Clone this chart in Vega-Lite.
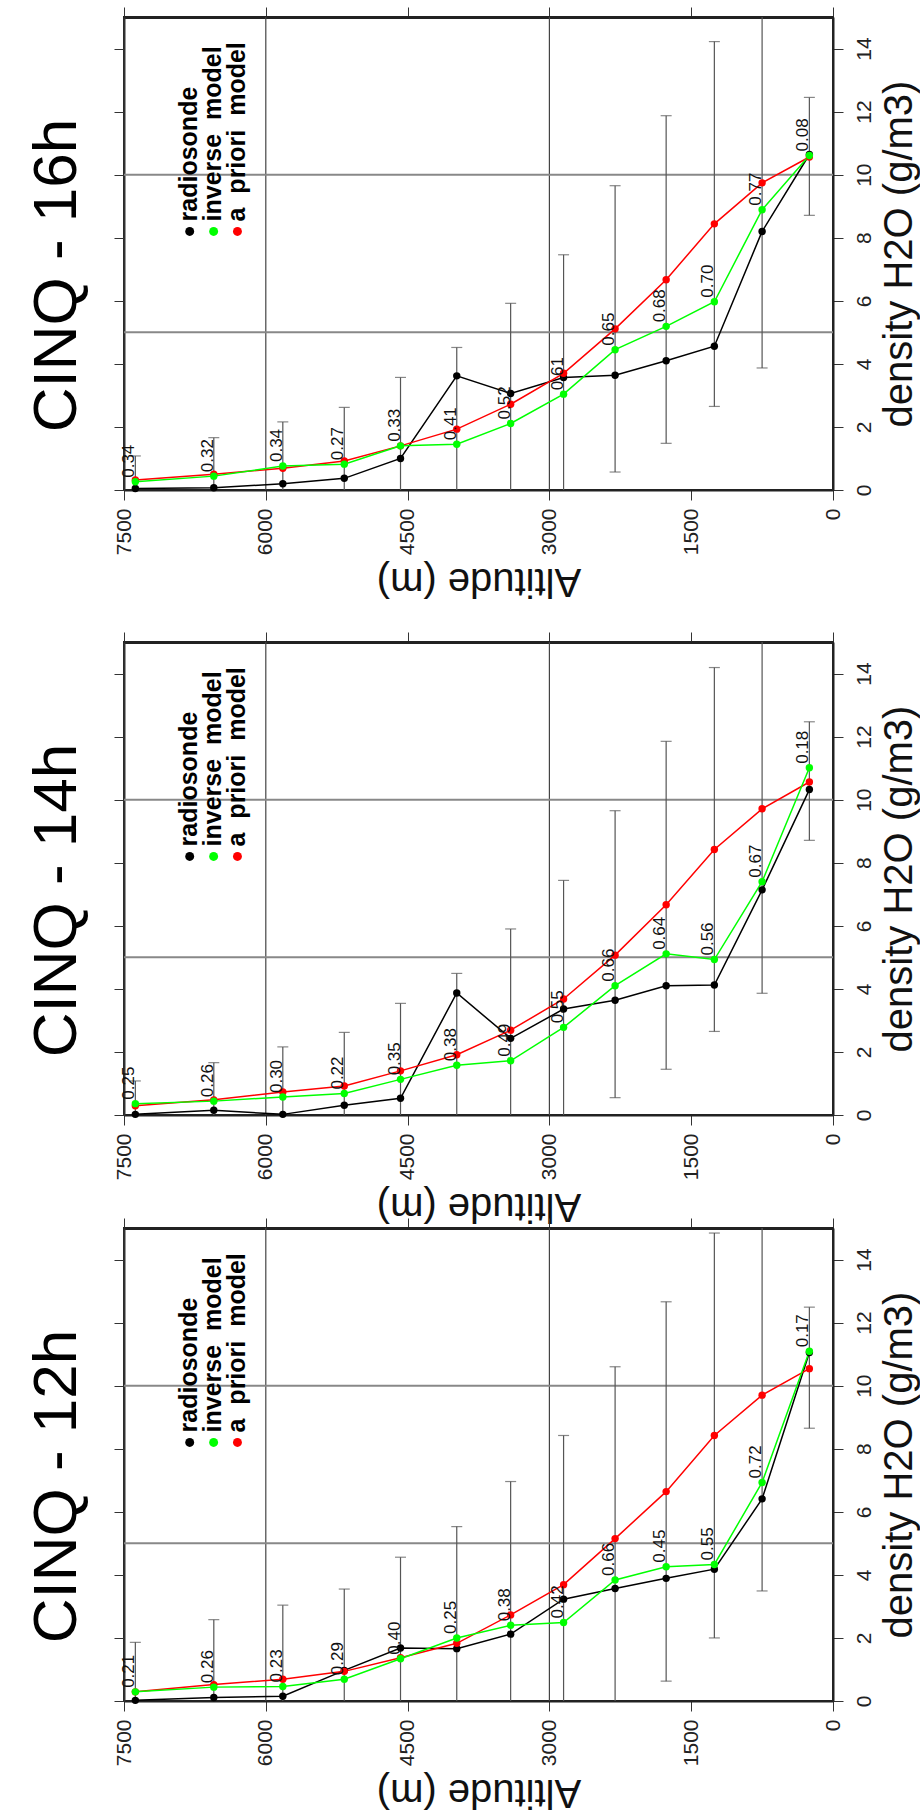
{
  "$schema": "https://vega.github.io/schema/vega-lite/v6.json",
  "padding": {"left": 24, "top": 5, "right": 0, "bottom": 6},
  "background": "white",
  "config": {"view": {"stroke": "#222", "strokeWidth": 2}, "font": "Liberation Sans"},
  "datasets": {
    "p16": [
      {"alt": 7380, "rs": 0.05, "inv": 0.26, "apr": 0.32, "lo": -0.44, "hi": 1.08, "lab": "0.34"},
      {"alt": 6550, "rs": 0.07, "inv": 0.44, "apr": 0.50, "lo": -0.66, "hi": 1.66, "lab": "0.32"},
      {"alt": 5820, "rs": 0.20, "inv": 0.76, "apr": 0.69, "lo": -0.78, "hi": 2.16, "lab": "0.34"},
      {"alt": 5170, "rs": 0.37, "inv": 0.82, "apr": 0.92, "lo": -0.78, "hi": 2.62, "lab": "0.27"},
      {"alt": 4575, "rs": 1.00, "inv": 1.40, "apr": 1.40, "lo": -0.77, "hi": 3.57, "lab": "0.33"},
      {"alt": 3980, "rs": 3.62, "inv": 1.45, "apr": 1.93, "lo": -0.66, "hi": 4.52, "lab": "0.41"},
      {"alt": 3410, "rs": 3.06, "inv": 2.11, "apr": 2.72, "lo": -0.48, "hi": 5.92, "lab": "0.52"},
      {"alt": 2850, "rs": 3.57, "inv": 3.04, "apr": 3.70, "lo": -0.06, "hi": 7.46, "lab": "0.61"},
      {"alt": 2305, "rs": 3.64, "inv": 4.45, "apr": 5.11, "lo": 0.57, "hi": 9.65, "lab": "0.65"},
      {"alt": 1765, "rs": 4.10, "inv": 5.19, "apr": 6.67, "lo": 1.48, "hi": 11.87, "lab": "0.68"},
      {"alt": 1255, "rs": 4.56, "inv": 5.97, "apr": 8.44, "lo": 2.65, "hi": 14.22, "lab": "0.70"},
      {"alt": 750, "rs": 8.20, "inv": 8.89, "apr": 9.74, "lo": 3.87, "hi": 15.61, "lab": "0.77"},
      {"alt": 250, "rs": 10.64, "inv": 10.61, "apr": 10.56, "lo": 8.71, "hi": 12.45, "lab": "0.08"}
    ],
    "p14": [
      {"alt": 7380, "rs": 0.02, "inv": 0.36, "apr": 0.29, "lo": -0.50, "hi": 1.08, "lab": "0.25"},
      {"alt": 6550, "rs": 0.15, "inv": 0.44, "apr": 0.48, "lo": -0.70, "hi": 1.66, "lab": "0.26"},
      {"alt": 5820, "rs": 0.02, "inv": 0.57, "apr": 0.73, "lo": -0.70, "hi": 2.16, "lab": "0.30"},
      {"alt": 5170, "rs": 0.31, "inv": 0.68, "apr": 0.92, "lo": -0.78, "hi": 2.62, "lab": "0.22"},
      {"alt": 4575, "rs": 0.53, "inv": 1.13, "apr": 1.40, "lo": -0.74, "hi": 3.54, "lab": "0.35"},
      {"alt": 3980, "rs": 3.87, "inv": 1.58, "apr": 1.91, "lo": -0.67, "hi": 4.49, "lab": "0.38"},
      {"alt": 3410, "rs": 2.43, "inv": 1.72, "apr": 2.69, "lo": -0.52, "hi": 5.90, "lab": "0.49"},
      {"alt": 2850, "rs": 3.36, "inv": 2.78, "apr": 3.68, "lo": -0.08, "hi": 7.44, "lab": "0.55"},
      {"alt": 2305, "rs": 3.64, "inv": 4.10, "apr": 5.07, "lo": 0.55, "hi": 9.65, "lab": "0.66"},
      {"alt": 1765, "rs": 4.10, "inv": 5.11, "apr": 6.67, "lo": 1.45, "hi": 11.85, "lab": "0.64"},
      {"alt": 1255, "rs": 4.12, "inv": 4.93, "apr": 8.42, "lo": 2.65, "hi": 14.19, "lab": "0.56"},
      {"alt": 750, "rs": 7.14, "inv": 7.40, "apr": 9.71, "lo": 3.86, "hi": 15.56, "lab": "0.67"},
      {"alt": 250, "rs": 10.32, "inv": 11.01, "apr": 10.56, "lo": 8.71, "hi": 12.47, "lab": "0.18"}
    ],
    "p12": [
      {"alt": 7380, "rs": 0.02, "inv": 0.29, "apr": 0.29, "lo": -1.28, "hi": 1.86, "lab": "0.21"},
      {"alt": 6550, "rs": 0.11, "inv": 0.44, "apr": 0.52, "lo": -1.54, "hi": 2.58, "lab": "0.26"},
      {"alt": 5820, "rs": 0.15, "inv": 0.46, "apr": 0.69, "lo": -1.66, "hi": 3.04, "lab": "0.23"},
      {"alt": 5170, "rs": 0.97, "inv": 0.69, "apr": 0.94, "lo": -1.67, "hi": 3.55, "lab": "0.29"},
      {"alt": 4575, "rs": 1.68, "inv": 1.34, "apr": 1.37, "lo": -1.82, "hi": 4.56, "lab": "0.40"},
      {"alt": 3980, "rs": 1.66, "inv": 2.00, "apr": 1.83, "lo": -1.87, "hi": 5.53, "lab": "0.25"},
      {"alt": 3410, "rs": 2.12, "inv": 2.40, "apr": 2.73, "lo": -1.50, "hi": 6.96, "lab": "0.38"},
      {"alt": 2850, "rs": 3.23, "inv": 2.49, "apr": 3.69, "lo": -1.04, "hi": 8.42, "lab": "0.42"},
      {"alt": 2305, "rs": 3.57, "inv": 3.84, "apr": 5.15, "lo": -0.30, "hi": 10.60, "lab": "0.66"},
      {"alt": 1765, "rs": 3.89, "inv": 4.26, "apr": 6.64, "lo": 0.63, "hi": 12.66, "lab": "0.45"},
      {"alt": 1255, "rs": 4.18, "inv": 4.33, "apr": 8.42, "lo": 2.00, "hi": 14.84, "lab": "0.55"},
      {"alt": 750, "rs": 6.41, "inv": 6.93, "apr": 9.70, "lo": 3.49, "hi": 15.91, "lab": "0.72"},
      {"alt": 250, "rs": 11.05, "inv": 11.09, "apr": 10.54, "lo": 8.65, "hi": 12.49, "lab": "0.17"}
    ]
  },
  "spacing": 28,
  "vconcat": [
    {
      "width": 709, "height": 473,
      "title": {"text": "CINQ - 16h", "orient": "left", "anchor": "middle", "fontSize": 62, "fontWeight": "normal", "font": "Liberation Sans", "color": "#000", "offset": 24, "dx": -22},
      "data": {"name": "p16"},
      "resolve": {"axis": {"x": "independent", "y": "independent"}},
      "layer": [
        {"data": {"values": [{"g": 3000}, {"g": 6000}]},
         "mark": {"type": "rule", "color": "#444", "strokeWidth": 1.2},
         "encoding": {"x": {"field": "g", "type": "quantitative", "scale": {"domain": [0, 7500], "reverse": true, "nice": false, "zero": false},
           "axis": {"orient": "top", "values": [0, 1500, 3000, 4500, 6000, 7500], "labels": false, "ticks": true, "tickSize": 10, "tickColor": "#333", "domain": true, "domainColor": "#222", "domainWidth": 3, "title": null, "grid": false}}}},
        {"data": {"values": [{"g": 5}, {"g": 10}]},
         "mark": {"type": "rule", "color": "#888", "strokeWidth": 2},
         "encoding": {"y": {"field": "g", "type": "quantitative", "scale": {"domain": [0, 15], "nice": false},
           "axis": {"orient": "left", "values": [0, 2, 4, 6, 8, 10, 12, 14], "labels": false, "ticks": true, "tickSize": 10, "tickColor": "#333", "domain": true, "domainColor": "#333", "domainWidth": 2, "title": null, "grid": false}}}},
        {"mark": {"type": "rule", "color": "#555", "strokeWidth": 1.2, "clip": true},
         "encoding": {
           "x": {"field": "alt", "type": "quantitative", "scale": {"domain": [0, 7500], "reverse": true, "nice": false, "zero": false},
             "axis": {"orient": "bottom", "values": [0, 1500, 3000, 4500, 6000, 7500], "format": "d", "labelAngle": 270, "labelAlign": "right", "labelBaseline": "middle", "labelFontSize": 21, "labelColor": "#222", "labelPadding": 8, "tickSize": 10, "tickColor": "#333", "domainColor": "#222", "domainWidth": 2, "grid": false,
               "title": "Altitude (m)", "titleAngle": 180, "titleBaseline": "bottom", "titleFontSize": 40, "titleFontWeight": "normal", "titleColor": "#111", "titlePadding": 6}},
           "y": {"field": "lo", "type": "quantitative", "scale": {"domain": [0, 15], "nice": false},
             "axis": {"orient": "right", "values": [0, 2, 4, 6, 8, 10, 12, 14], "labelAngle": 270, "labelAlign": "center", "labelBaseline": "top", "labelFontSize": 21, "labelColor": "#222", "labelPadding": 10, "tickSize": 10, "tickColor": "#333", "domainColor": "#222", "domainWidth": 2, "grid": false,
               "title": "density H2O (g/m3)", "titleAngle": 270, "titleBaseline": "top", "titleFontSize": 40, "titleFontWeight": "normal", "titleColor": "#111", "titlePadding": 5}},
           "y2": {"field": "hi"}}},
        {"mark": {"type": "tick", "orient": "horizontal", "size": 11, "thickness": 1.2, "color": "#555", "clip": true},
         "encoding": {"x": {"field": "alt", "type": "quantitative", "axis": null}, "y": {"field": "hi", "type": "quantitative", "axis": null}}},
        {"mark": {"type": "tick", "orient": "horizontal", "size": 11, "thickness": 1.2, "color": "#555", "clip": true},
         "encoding": {"x": {"field": "alt", "type": "quantitative", "axis": null}, "y": {"field": "lo", "type": "quantitative", "axis": null}}},
        {"transform": [{"fold": ["rs", "apr", "inv"], "as": ["series", "dens"]}],
         "encoding": {"x": {"field": "alt", "type": "quantitative", "axis": null}, "y": {"field": "dens", "type": "quantitative", "axis": null},
           "color": {"field": "series", "type": "nominal", "scale": {"domain": ["rs", "inv", "apr"], "range": ["#000000", "#00ff00", "#ff0000"]}, "legend": null}},
         "layer": [
           {"mark": {"type": "line", "strokeWidth": 1.5}},
           {"mark": {"type": "point", "filled": true, "size": 55, "opacity": 1}}
         ]},
        {"mark": {"type": "text", "angle": 270, "align": "left", "baseline": "bottom", "dx": 4, "dy": 3, "fontSize": 17, "color": "#111"},
         "encoding": {"x": {"field": "alt", "type": "quantitative", "axis": null}, "y": {"field": "inv", "type": "quantitative", "axis": null}, "text": {"field": "lab"}}},
        {"data": {"values": [{}]}, "mark": {"type": "point", "filled": true, "size": 80, "opacity": 1, "color": "#000000"},
         "encoding": {"x": {"datum": 6805, "type": "quantitative", "axis": null}, "y": {"datum": 8.2, "type": "quantitative", "axis": null}}},
        {"data": {"values": [{}]}, "mark": {"type": "point", "filled": true, "size": 80, "opacity": 1, "color": "#00ff00"},
         "encoding": {"x": {"datum": 6552, "type": "quantitative", "axis": null}, "y": {"datum": 8.2, "type": "quantitative", "axis": null}}},
        {"data": {"values": [{}]}, "mark": {"type": "point", "filled": true, "size": 80, "opacity": 1, "color": "#ff0000"},
         "encoding": {"x": {"datum": 6300, "type": "quantitative", "axis": null}, "y": {"datum": 8.2, "type": "quantitative", "axis": null}}},
        {"data": {"values": [{}]}, "mark": {"type": "text", "angle": 270, "align": "left", "baseline": "alphabetic", "dx": 10, "dy": 7, "fontSize": 25, "fontWeight": "bold", "lineHeight": 24, "color": "#000"},
         "encoding": {"x": {"datum": 6805, "type": "quantitative", "axis": null}, "y": {"datum": 8.2, "type": "quantitative", "axis": null}, "text": {"value": ["radiosonde", "inverse \u00a0model", "a \u00a0priori \u00a0model"]}}}
      ]
    },
    {
      "spacing": -11,
      "vconcat": [
        {
          "width": 709, "height": 473,
          "title": {"text": "CINQ - 14h", "orient": "left", "anchor": "middle", "fontSize": 62, "fontWeight": "normal", "font": "Liberation Sans", "color": "#000", "offset": 24, "dx": -22},
          "data": {"name": "p14"},
          "resolve": {"axis": {"x": "independent", "y": "independent"}},
          "layer": [
            {"data": {"values": [{"g": 3000}, {"g": 6000}]},
             "mark": {"type": "rule", "color": "#444", "strokeWidth": 1.2},
             "encoding": {"x": {"field": "g", "type": "quantitative", "scale": {"domain": [0, 7500], "reverse": true, "nice": false, "zero": false},
               "axis": {"orient": "top", "values": [0, 1500, 3000, 4500, 6000, 7500], "labels": false, "ticks": true, "tickSize": 10, "tickColor": "#333", "domain": true, "domainColor": "#222", "domainWidth": 3, "title": null, "grid": false}}}},
            {"data": {"values": [{"g": 5}, {"g": 10}]},
             "mark": {"type": "rule", "color": "#888", "strokeWidth": 2},
             "encoding": {"y": {"field": "g", "type": "quantitative", "scale": {"domain": [0, 15], "nice": false},
               "axis": {"orient": "left", "values": [0, 2, 4, 6, 8, 10, 12, 14], "labels": false, "ticks": true, "tickSize": 10, "tickColor": "#333", "domain": true, "domainColor": "#333", "domainWidth": 2, "title": null, "grid": false}}}},
            {"mark": {"type": "rule", "color": "#555", "strokeWidth": 1.2, "clip": true},
             "encoding": {
               "x": {"field": "alt", "type": "quantitative", "scale": {"domain": [0, 7500], "reverse": true, "nice": false, "zero": false},
                 "axis": {"orient": "bottom", "values": [0, 1500, 3000, 4500, 6000, 7500], "format": "d", "labelAngle": 270, "labelAlign": "right", "labelBaseline": "middle", "labelFontSize": 21, "labelColor": "#222", "labelPadding": 8, "tickSize": 10, "tickColor": "#333", "domainColor": "#222", "domainWidth": 2, "grid": false,
                   "title": "Altitude (m)", "titleAngle": 180, "titleBaseline": "bottom", "titleFontSize": 40, "titleFontWeight": "normal", "titleColor": "#111", "titlePadding": 6}},
               "y": {"field": "lo", "type": "quantitative", "scale": {"domain": [0, 15], "nice": false},
                 "axis": {"orient": "right", "values": [0, 2, 4, 6, 8, 10, 12, 14], "labelAngle": 270, "labelAlign": "center", "labelBaseline": "top", "labelFontSize": 21, "labelColor": "#222", "labelPadding": 10, "tickSize": 10, "tickColor": "#333", "domainColor": "#222", "domainWidth": 2, "grid": false,
                   "title": "density H2O (g/m3)", "titleAngle": 270, "titleBaseline": "top", "titleFontSize": 40, "titleFontWeight": "normal", "titleColor": "#111", "titlePadding": 5}},
               "y2": {"field": "hi"}}},
            {"mark": {"type": "tick", "orient": "horizontal", "size": 11, "thickness": 1.2, "color": "#555", "clip": true},
             "encoding": {"x": {"field": "alt", "type": "quantitative", "axis": null}, "y": {"field": "hi", "type": "quantitative", "axis": null}}},
            {"mark": {"type": "tick", "orient": "horizontal", "size": 11, "thickness": 1.2, "color": "#555", "clip": true},
             "encoding": {"x": {"field": "alt", "type": "quantitative", "axis": null}, "y": {"field": "lo", "type": "quantitative", "axis": null}}},
            {"transform": [{"fold": ["rs", "apr", "inv"], "as": ["series", "dens"]}],
             "encoding": {"x": {"field": "alt", "type": "quantitative", "axis": null}, "y": {"field": "dens", "type": "quantitative", "axis": null},
               "color": {"field": "series", "type": "nominal", "scale": {"domain": ["rs", "inv", "apr"], "range": ["#000000", "#00ff00", "#ff0000"]}, "legend": null}},
             "layer": [
               {"mark": {"type": "line", "strokeWidth": 1.5}},
               {"mark": {"type": "point", "filled": true, "size": 55, "opacity": 1}}
             ]},
            {"mark": {"type": "text", "angle": 270, "align": "left", "baseline": "bottom", "dx": 4, "dy": 3, "fontSize": 17, "color": "#111"},
             "encoding": {"x": {"field": "alt", "type": "quantitative", "axis": null}, "y": {"field": "inv", "type": "quantitative", "axis": null}, "text": {"field": "lab"}}},
            {"data": {"values": [{}]}, "mark": {"type": "point", "filled": true, "size": 80, "opacity": 1, "color": "#000000"},
             "encoding": {"x": {"datum": 6805, "type": "quantitative", "axis": null}, "y": {"datum": 8.2, "type": "quantitative", "axis": null}}},
            {"data": {"values": [{}]}, "mark": {"type": "point", "filled": true, "size": 80, "opacity": 1, "color": "#00ff00"},
             "encoding": {"x": {"datum": 6552, "type": "quantitative", "axis": null}, "y": {"datum": 8.2, "type": "quantitative", "axis": null}}},
            {"data": {"values": [{}]}, "mark": {"type": "point", "filled": true, "size": 80, "opacity": 1, "color": "#ff0000"},
             "encoding": {"x": {"datum": 6300, "type": "quantitative", "axis": null}, "y": {"datum": 8.2, "type": "quantitative", "axis": null}}},
            {"data": {"values": [{}]}, "mark": {"type": "text", "angle": 270, "align": "left", "baseline": "alphabetic", "dx": 10, "dy": 7, "fontSize": 25, "fontWeight": "bold", "lineHeight": 24, "color": "#000"},
             "encoding": {"x": {"datum": 6805, "type": "quantitative", "axis": null}, "y": {"datum": 8.2, "type": "quantitative", "axis": null}, "text": {"value": ["radiosonde", "inverse \u00a0model", "a \u00a0priori \u00a0model"]}}}
          ]
        },
        {
          "width": 709, "height": 473,
          "title": {"text": "CINQ - 12h", "orient": "left", "anchor": "middle", "fontSize": 62, "fontWeight": "normal", "font": "Liberation Sans", "color": "#000", "offset": 24, "dx": -22},
          "data": {"name": "p12"},
          "resolve": {"axis": {"x": "independent", "y": "independent"}},
          "layer": [
            {"data": {"values": [{"g": 3000}, {"g": 6000}]},
             "mark": {"type": "rule", "color": "#444", "strokeWidth": 1.2},
             "encoding": {"x": {"field": "g", "type": "quantitative", "scale": {"domain": [0, 7500], "reverse": true, "nice": false, "zero": false},
               "axis": {"orient": "top", "values": [0, 1500, 3000, 4500, 6000, 7500], "labels": false, "ticks": true, "tickSize": 10, "tickColor": "#333", "domain": true, "domainColor": "#222", "domainWidth": 3, "title": null, "grid": false}}}},
            {"data": {"values": [{"g": 5}, {"g": 10}]},
             "mark": {"type": "rule", "color": "#888", "strokeWidth": 2},
             "encoding": {"y": {"field": "g", "type": "quantitative", "scale": {"domain": [0, 15], "nice": false},
               "axis": {"orient": "left", "values": [0, 2, 4, 6, 8, 10, 12, 14], "labels": false, "ticks": true, "tickSize": 10, "tickColor": "#333", "domain": true, "domainColor": "#333", "domainWidth": 2, "title": null, "grid": false}}}},
            {"mark": {"type": "rule", "color": "#555", "strokeWidth": 1.2, "clip": true},
             "encoding": {
               "x": {"field": "alt", "type": "quantitative", "scale": {"domain": [0, 7500], "reverse": true, "nice": false, "zero": false},
                 "axis": {"orient": "bottom", "values": [0, 1500, 3000, 4500, 6000, 7500], "format": "d", "labelAngle": 270, "labelAlign": "right", "labelBaseline": "middle", "labelFontSize": 21, "labelColor": "#222", "labelPadding": 8, "tickSize": 10, "tickColor": "#333", "domainColor": "#222", "domainWidth": 2, "grid": false,
                   "title": "Altitude (m)", "titleAngle": 180, "titleBaseline": "bottom", "titleFontSize": 40, "titleFontWeight": "normal", "titleColor": "#111", "titlePadding": 6}},
               "y": {"field": "lo", "type": "quantitative", "scale": {"domain": [0, 15], "nice": false},
                 "axis": {"orient": "right", "values": [0, 2, 4, 6, 8, 10, 12, 14], "labelAngle": 270, "labelAlign": "center", "labelBaseline": "top", "labelFontSize": 21, "labelColor": "#222", "labelPadding": 10, "tickSize": 10, "tickColor": "#333", "domainColor": "#222", "domainWidth": 2, "grid": false,
                   "title": "density H2O (g/m3)", "titleAngle": 270, "titleBaseline": "top", "titleFontSize": 40, "titleFontWeight": "normal", "titleColor": "#111", "titlePadding": 5}},
               "y2": {"field": "hi"}}},
            {"mark": {"type": "tick", "orient": "horizontal", "size": 11, "thickness": 1.2, "color": "#555", "clip": true},
             "encoding": {"x": {"field": "alt", "type": "quantitative", "axis": null}, "y": {"field": "hi", "type": "quantitative", "axis": null}}},
            {"mark": {"type": "tick", "orient": "horizontal", "size": 11, "thickness": 1.2, "color": "#555", "clip": true},
             "encoding": {"x": {"field": "alt", "type": "quantitative", "axis": null}, "y": {"field": "lo", "type": "quantitative", "axis": null}}},
            {"transform": [{"fold": ["rs", "apr", "inv"], "as": ["series", "dens"]}],
             "encoding": {"x": {"field": "alt", "type": "quantitative", "axis": null}, "y": {"field": "dens", "type": "quantitative", "axis": null},
               "color": {"field": "series", "type": "nominal", "scale": {"domain": ["rs", "inv", "apr"], "range": ["#000000", "#00ff00", "#ff0000"]}, "legend": null}},
             "layer": [
               {"mark": {"type": "line", "strokeWidth": 1.5}},
               {"mark": {"type": "point", "filled": true, "size": 55, "opacity": 1}}
             ]},
            {"mark": {"type": "text", "angle": 270, "align": "left", "baseline": "bottom", "dx": 4, "dy": 3, "fontSize": 17, "color": "#111"},
             "encoding": {"x": {"field": "alt", "type": "quantitative", "axis": null}, "y": {"field": "inv", "type": "quantitative", "axis": null}, "text": {"field": "lab"}}},
            {"data": {"values": [{}]}, "mark": {"type": "point", "filled": true, "size": 80, "opacity": 1, "color": "#000000"},
             "encoding": {"x": {"datum": 6805, "type": "quantitative", "axis": null}, "y": {"datum": 8.2, "type": "quantitative", "axis": null}}},
            {"data": {"values": [{}]}, "mark": {"type": "point", "filled": true, "size": 80, "opacity": 1, "color": "#00ff00"},
             "encoding": {"x": {"datum": 6552, "type": "quantitative", "axis": null}, "y": {"datum": 8.2, "type": "quantitative", "axis": null}}},
            {"data": {"values": [{}]}, "mark": {"type": "point", "filled": true, "size": 80, "opacity": 1, "color": "#ff0000"},
             "encoding": {"x": {"datum": 6300, "type": "quantitative", "axis": null}, "y": {"datum": 8.2, "type": "quantitative", "axis": null}}},
            {"data": {"values": [{}]}, "mark": {"type": "text", "angle": 270, "align": "left", "baseline": "alphabetic", "dx": 10, "dy": 7, "fontSize": 25, "fontWeight": "bold", "lineHeight": 24, "color": "#000"},
             "encoding": {"x": {"datum": 6805, "type": "quantitative", "axis": null}, "y": {"datum": 8.2, "type": "quantitative", "axis": null}, "text": {"value": ["radiosonde", "inverse \u00a0model", "a \u00a0priori \u00a0model"]}}}
          ]
        }
      ]
    }
  ]
}
